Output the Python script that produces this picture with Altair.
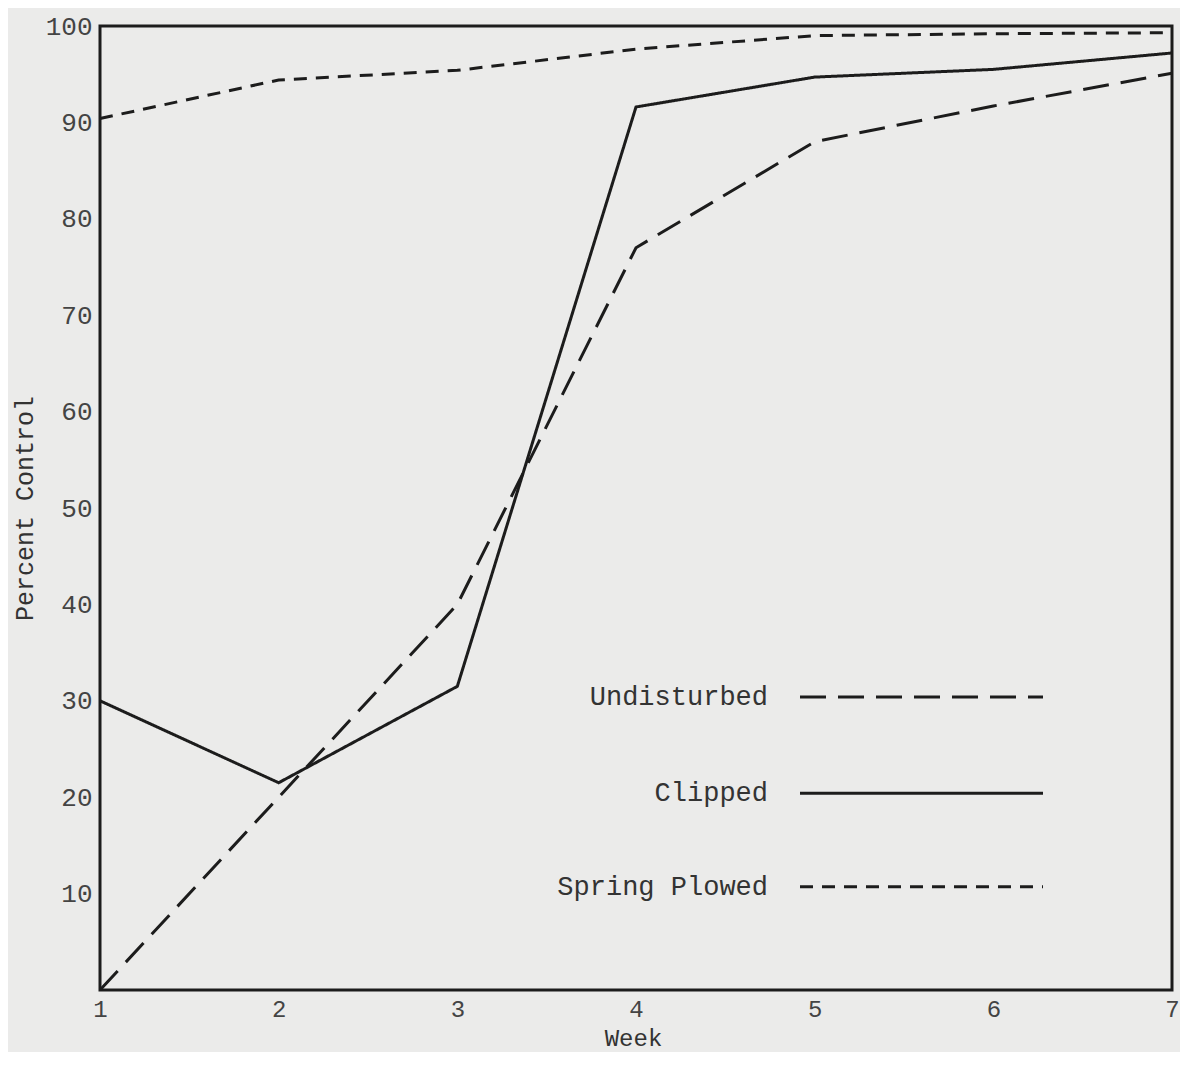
import altair as alt
import pandas as pd

# ---- data ----
weeks = [1, 2, 3, 4, 5, 6, 7]
undisturbed = [0, 20, 40, 77, 88, 91.7, 95.1]
clipped = [30, 21.5, 31.5, 91.6, 94.7, 95.5, 97.2]
spring_plowed = [90.4, 94.4, 95.4, 97.6, 99.0, 99.2, 99.3]
series_names = ["Undisturbed", "Clipped", "Spring Plowed"]
x_ticks = [1, 2, 3, 4, 5, 6, 7]
y_ticks = [10, 20, 30, 40, 50, 60, 70, 80, 90, 100]

# ---- tables ----
rows = []
for name, vals in zip(series_names, [undisturbed, clipped, spring_plowed]):
    for w, v in zip(weeks, vals):
        rows.append({"Week": w, "Percent": v, "Series": name})
df = pd.DataFrame(rows)

legend_levels = [30.4, 20.4, 10.7]  # vertical placement of the in-plot key (in y units)
legend_df = pd.DataFrame({"Series": series_names, "ly": legend_levels})

INK = "#1c1c1c"
FONT = "Liberation Mono"
PAPER = "#ebebea"
W, H = 1072, 964
dash_scale = alt.Scale(domain=series_names, range=[[26, 12], [1, 0], [13, 9]])

x_enc = alt.X(
    "Week:Q",
    scale=alt.Scale(domain=[1, 7], nice=False, zero=False),
    axis=alt.Axis(
        values=x_ticks, format="d", title="Week", grid=False, domain=False, ticks=False,
        labelFlush=False,
        labelFont=FONT, labelFontSize=24, labelColor="#444444", labelPadding=7,
        titleFont=FONT, titleFontSize=24, titleFontWeight="normal", titleColor="#333333",
        titleX=533, titleY=55, titleBaseline="alphabetic", titleAlign="center",
    ),
)
y_enc = alt.Y(
    "Percent:Q",
    scale=alt.Scale(domain=[0, 100], nice=False),
    axis=alt.Axis(
        values=y_ticks, format="d", title="Percent Control", grid=False, domain=False, ticks=False,
        labelFont=FONT, labelFontSize=26, labelColor="#444444", labelPadding=8,
        titleFont=FONT, titleFontSize=25, titleFontWeight="normal", titleColor="#333333",
        titleX=-76, titleY=H / 2, titleAngle=-90, titleBaseline="middle", titleAlign="center",
    ),
)

lines = alt.Chart(df).mark_line(color=INK, strokeWidth=3).encode(
    x=x_enc,
    y=y_enc,
    strokeDash=alt.StrokeDash("Series:N", scale=dash_scale, legend=None),
    detail="Series:N",
)

key_text = alt.Chart(legend_df).mark_text(
    align="right", baseline="middle", font=FONT, fontSize=27, color="#333333"
).encode(
    x=alt.value(668),
    y=alt.Y("ly:Q", scale=alt.Scale(domain=[0, 100], nice=False)),
    text="Series:N",
)

key_lines = alt.Chart(legend_df).mark_rule(color=INK, strokeWidth=3).encode(
    x=alt.value(700),
    x2=alt.value(943),
    y=alt.Y("ly:Q", scale=alt.Scale(domain=[0, 100], nice=False)),
    strokeDash=alt.StrokeDash("Series:N", scale=dash_scale, legend=None),
)

chart = (
    alt.layer(lines, key_text, key_lines)
    .properties(
        width=W,
        height=H,
        autosize=alt.AutoSizeParams(type="none"),
        padding={"left": 92, "top": 18, "right": 8, "bottom": 62},
        background=PAPER,
    )
    .configure_view(stroke=INK, strokeWidth=3, fill=PAPER)
)

chart.save("out.html", embed_options={"renderer": "svg", "actions": False})
